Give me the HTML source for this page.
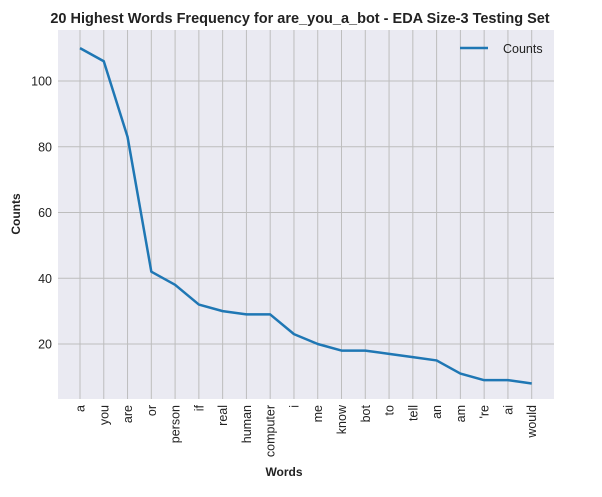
<!DOCTYPE html>
<html><head><meta charset="utf-8"><style>
body{margin:0;background:#fff;font-family:"Liberation Sans",Arial,sans-serif}
</style></head><body>
<svg id="chart" width="602" height="492" xmlns="http://www.w3.org/2000/svg">
<text x="300" y="23" text-anchor="middle" font-weight="bold" font-size="14.5" fill="#222">20 Highest Words Frequency for are_you_a_bot - EDA Size-3 Testing Set</text>
<rect x="58" y="30" width="496" height="369" fill="#eaeaf2"/>
<g id="grid"></g>
<g id="xt"></g><g id="yt"></g>
<polyline id="line" fill="none" stroke="#1f77b4" stroke-width="2.5" stroke-linejoin="round"/>
<text x="284" y="476" text-anchor="middle" font-weight="bold" font-size="12" fill="#222">Words</text>
<text transform="translate(20,214) rotate(-90)" text-anchor="middle" font-weight="bold" font-size="12" fill="#222">Counts</text>
<g>
<line x1="460" y1="48" x2="488" y2="48" stroke="#1f77b4" stroke-width="2.5"/>
<text x="503" y="53" font-size="12.5" fill="#222">Counts</text>
</g>
</svg>
<script>
const words=["a","you","are","or","person","if","real","human","computer","i","me","know","bot","to","tell","an","am","'re","ai","would"];
const counts=[110,106,83,42,38,32,30,29,29,23,20,18,18,17,16,15,11,9,9,8];
const yTicks=[20,40,60,80,100];
const NS="http://www.w3.org/2000/svg";
const xs=i=>80+i*(531.7-80)/(words.length-1);
const ys=v=>344-(v-20)*3.2875;
const grid=document.getElementById('grid'),xt=document.getElementById('xt'),yt=document.getElementById('yt');
function mk(tag,attrs,parent){const e=document.createElementNS(NS,tag);for(const k in attrs)e.setAttribute(k,attrs[k]);parent.appendChild(e);return e;}
yTicks.forEach(v=>{
 const l=mk('line',{x1:58,x2:554,y1:ys(v),y2:ys(v),stroke:'#bdbdbd','stroke-width':1},grid);
 
 
 const t=mk('text',{x:52,y:ys(v)+4.5,'text-anchor':'end','font-size':12.5,fill:'#222'},yt);
 t.textContent=v;
 
 
});
words.forEach((w,i)=>{
 const l=mk('line',{x1:xs(i),x2:xs(i),y1:30,y2:399,stroke:'#bdbdbd','stroke-width':1},grid);
 
 
 const t=mk('text',{transform:`translate(${xs(i)+4.5},405) rotate(-90)`,'text-anchor':'end','font-size':12.5,fill:'#222'},xt);
 t.textContent=w;
 
 
});
document.getElementById('line').setAttribute('points',counts.map((v,i)=>xs(i)+','+ys(v)).join(' '));
</script>
</body></html>
